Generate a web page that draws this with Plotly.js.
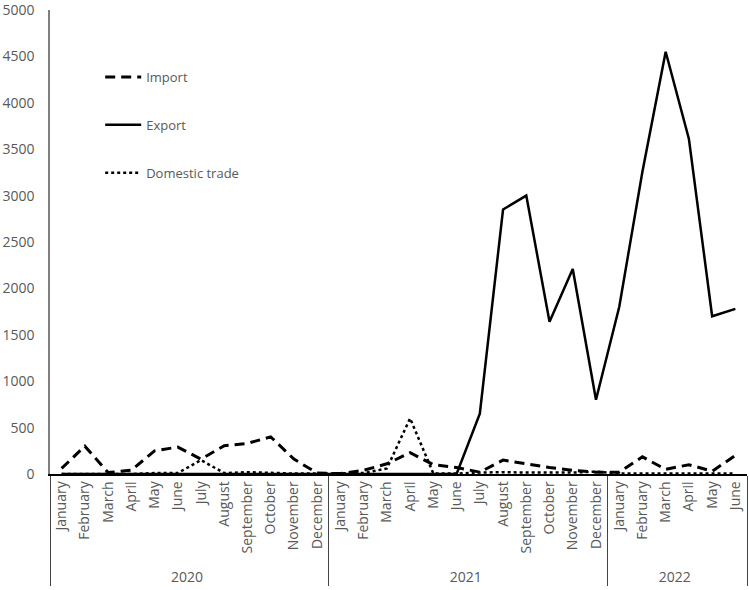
<!DOCTYPE html>
<html>
<head>
<meta charset="utf-8">
<script src="https://cdn.plot.ly/plotly-3.0.1.min.js"></script>
<style>body{margin:0;background:#fff}#chart{width:749px;height:590px}</style>
</head>
<body>
<div id="chart"></div>
<script>
(function(){
    const monthNames = ['January','February','March','April','May','June','July','August','September','October','November','December'];
    const years = ['2020','2021','2022'];
    const monthsPerYear = [12,12,6];

    const importVals = [60,300,15,40,250,290,160,305,330,400,160,10,
                        5,40,110,230,100,70,20,150,110,70,40,20,
                        20,185,50,100,30,200];
    const exportVals = [0,0,0,0,0,0,0,0,0,0,0,0,
                        0,0,0,0,0,0,650,2850,3000,1640,2210,800,
                        1800,3260,4550,3610,1700,1780];
    const domesticVals = [0,0,0,0,10,10,150,10,20,10,5,5,
                          5,10,60,600,5,5,15,20,15,15,15,25,
                          5,5,5,5,5,5];

    const xYear = [], xMonth = [];
    years.forEach((y, i) => {
        for (let m = 0; m < monthsPerYear[i]; m++) { xYear.push(y); xMonth.push(monthNames[m]); }
    });
    const x = [xYear, xMonth];

    const traces = [
        {x: x, y: importVals, name: 'Import', legendgroup: 'a', mode: 'lines', line: {color: '#000', width: 3, dash: '10px,6px'}},
        {x: x, y: exportVals, name: 'Export', legendgroup: 'b', mode: 'lines', line: {color: '#000', width: 2.5}},
        {x: x, y: domesticVals, name: 'Domestic trade', legendgroup: 'c', mode: 'lines', line: {color: '#000', width: 2.5, dash: 'dot'}}
    ];

    const layout = {
        width: 749, height: 590,
        margin: {l: 50, r: 2, t: 10, b: 116},
        paper_bgcolor: 'white', plot_bgcolor: 'white',
        font: {family: 'Open Sans, sans-serif', color: '#595959', size: 13},
        showlegend: true,
        legend: {x: 0.072, y: 0.888, xanchor: 'left', yanchor: 'top', bgcolor: 'rgba(0,0,0,0)',
                 font: {size: 13, color: '#595959'}, tracegroupgap: 28, itemwidth: 36},
        xaxis: {
            type: 'multicategory',
            tickangle: -90,
            showline: true, linecolor: '#000', linewidth: 1.5,
            showgrid: false, zeroline: false,
            ticks: '',
            showdividers: true, dividercolor: '#444', dividerwidth: 1,
            tickfont: {size: 14, color: '#595959'},
            range: [-0.5, 29.5]
        },
        yaxis: {
            range: [0, 5000], dtick: 500, tick0: 0,
            showline: true, linecolor: '#7f7f7f', linewidth: 1.5,
            showgrid: false, zeroline: false,
            ticks: 'outside', ticklen: 11, tickcolor: 'rgba(0,0,0,0)',
            ticklabeloverflow: 'allow',
            tickfont: {size: 14, color: '#595959'}
        }
    };

    Plotly.newPlot('chart', traces, layout, {displayModeBar: false});
})();
</script>
</body>
</html>
